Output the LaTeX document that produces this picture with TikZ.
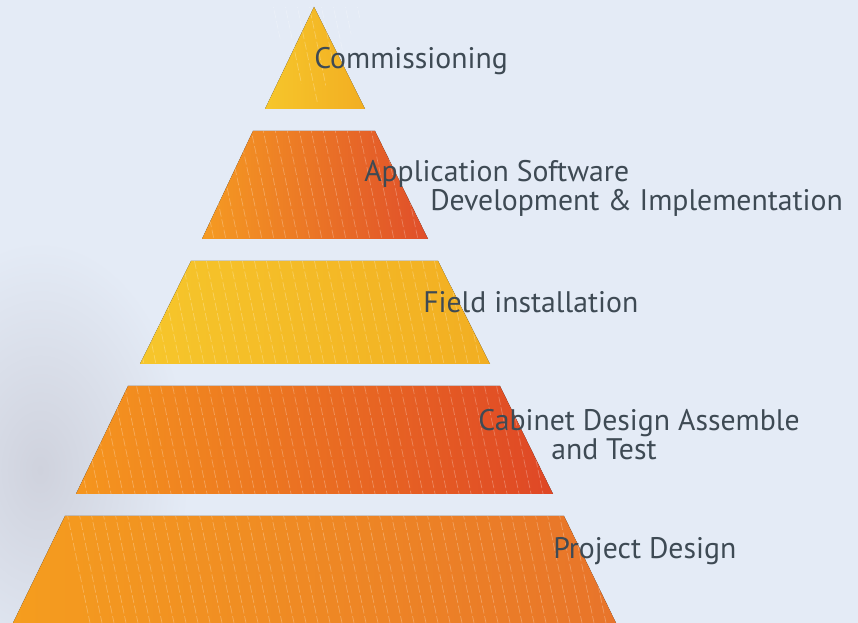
\documentclass[tikz,border=0pt]{standalone}
\usepackage{fontspec}
\setmainfont{PT Sans}
\usetikzlibrary{positioning}
\definecolor{bgblue}{HTML}{E4EBF6}
\definecolor{bggray}{HTML}{CFD2DD}
\definecolor{labelgray}{HTML}{3E4A54}
\definecolor{yellowA}{HTML}{F6C62B}
\definecolor{yellowB}{HTML}{F2AE22}
\definecolor{orangeA}{HTML}{F59B22}
\definecolor{redB}{HTML}{E04E2A}
\definecolor{orangeC}{HTML}{F5961E}
\definecolor{redD}{HTML}{DF4726}
\definecolor{orangeE}{HTML}{F59D1E}
\definecolor{orangeF}{HTML}{E8742A}
\tikzset{
    caption/.style={
        anchor=base west,
        inner sep=0pt,
        text=labelgray,
        font=\fontsize{22.3}{28}\selectfont
        },
    stripes/.style={white, opacity=0.28, line width=0.5pt, dash pattern=on 6pt off 2pt}
}

\begin{document}
\begin{tikzpicture}[x=0.75pt, y=-0.75pt]
    % background
    \useasboundingbox (0,0) rectangle (858,623);
    \clip (0,0) rectangle (858,623);
    \fill[bgblue] (0,0) rectangle (858,623);
    \shade[inner color=bggray, outer color=bgblue] (40,470) ellipse (150 and 230);

    % pyramid layers
    \fill[left color=yellowA, right color=yellowB]  (314,7) -- (365,109) -- (265,109) -- cycle;
    \fill[left color=orangeA, right color=redB]     (253,131) -- (375,131) -- (428,239) -- (202,239) -- cycle;
    \fill[left color=yellowA, right color=yellowB]  (191,261) -- (438,261) -- (490,364) -- (140,364) -- cycle;
    \fill[left color=orangeC, right color=redD]     (128,386) -- (500,386) -- (553,494) -- (76,494) -- cycle;
    \fill[left color=orangeE, right color=orangeF]  (65,516) -- (564,516) -- (616,623) -- (13,623) -- cycle;

    % fine stripes
    \foreach \top/\bot/\tl/\tr/\br/\bl in {
        109/7/314/314/365/265,
        131/239/253/375/428/202,
        261/364/191/438/490/140,
        386/494/128/500/553/76,
        516/623/65/564/616/13}{
        \begin{scope}
        \clip (\tl,\top) -- (\tr,\top) -- (\br,\bot) -- (\bl,\bot) -- cycle;
        \foreach \s in {-40,-28,...,620}{
            \draw[stripes] (\s,0) -- (\s+130,623);
        }
        \end{scope}
    }

    % labels
    \node[caption] (commissioning) at (314,69) {Commissioning};
    \node[caption] (software) at (364,182) {Application Software};
    \node[caption] (development) at ([shift={(66,29)}]software.base west) {Development \& Implementation};
    \node[caption] (field) at (423,313) {Field installation};
    \node[caption] (cabinet) at (478,431) {Cabinet Design Assemble};
    \node[caption] (test) at ([shift={(73,29)}]cabinet.base west) {and Test};
    \node[caption] (project) at (553,559) {Project Design};
\end{tikzpicture}
\end{document}
